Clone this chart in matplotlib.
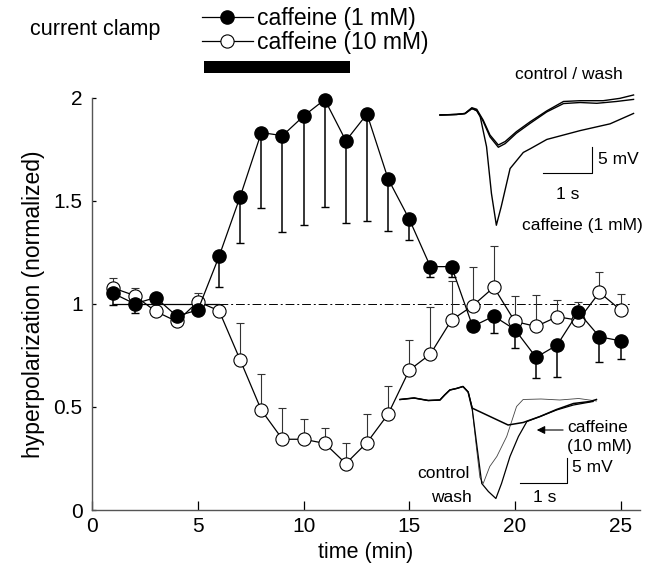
import matplotlib
matplotlib.use('Agg')
import matplotlib.pyplot as plt

plt.rcParams['font.family'] = ['Liberation Sans', 'DejaVu Sans']

# ---------------- data ----------------
time_min = list(range(1, 26))
caf1_mean = [1.05, 1.00, 1.03, 0.94, 0.97, 1.23, 1.52, 1.83, 1.815, 1.91,
             1.99, 1.79, 1.92, 1.605, 1.41, 1.18, 1.18, 0.89, 0.94, 0.875,
             0.74, 0.80, 0.96, 0.84, 0.82]
caf1_err_low = [0.055, 0.045, 0.0, 0.0, 0.02, 0.15, 0.225, 0.365, 0.465, 0.53,
                0.52, 0.40, 0.52, 0.25, 0.10, 0.05, 0.05, 0.0, 0.08, 0.09,
                0.10, 0.155, 0.0, 0.12, 0.09]
caf10_mean = [1.076, 1.04, 0.963, 0.914, 1.01, 0.966, 0.727, 0.484, 0.343, 0.343,
              0.323, 0.225, 0.327, 0.465, 0.678, 0.756, 0.921, 0.99, 1.08, 0.914,
              0.89, 0.937, 0.92, 1.055, 0.97]
caf10_err_up = [0.05, 0.037, 0.0, 0.0, 0.04, 0.0, 0.18, 0.176, 0.15, 0.10,
                0.077, 0.098, 0.14, 0.135, 0.146, 0.23, 0.19, 0.19, 0.20, 0.126,
                0.154, 0.08, 0.09, 0.10, 0.077]
series_labels = ['caffeine (1 mM)', 'caffeine (10 mM)']
ref_level = 1.0
ref_solid_span = [1, 6]
ref_dash_span = [6, 25.5]
caffeine_bar = [5.3, 12.2]          # application period (min)
x_ticks = [0, 5, 10, 15, 20, 25]
y_ticks = [0, 0.5, 1, 1.5, 2]
y_tick_labels = ['0', '0.5', '1', '1.5', '2']

# upper inset traces (s, mV)
up_ctrl_s = [0, 0.34, 0.51, 0.65, 0.75, 0.88, 1.02, 1.19, 1.33, 1.56, 1.84,
             2.18, 2.52, 2.86, 3.33, 3.67, 3.95]
up_ctrl_mv = [0, 0.13, 0.3, 1.4, 1.1, -0.96, -3.85, -5.77, -5.1, -3.2, -1.3,
              0.8, 2.6, 2.75, 2.75, 3.2, 3.85]
up_wash_s = [0, 0.34, 0.51, 0.65, 0.75, 0.88, 1.02, 1.19, 1.33, 1.56, 1.84,
             2.18, 2.52, 2.86, 3.2, 3.6, 3.95]
up_wash_mv = [0, 0.1, 0.25, 1.2, 0.9, -1.2, -4.2, -6.2, -5.5, -3.5, -1.6,
              0.6, 2.2, 2.4, 2.25, 2.6, 3.0]
up_caf_s = [0, 0.34, 0.51, 0.65, 0.75, 0.82, 0.95, 1.05, 1.15, 1.25, 1.43,
            1.70, 1.84, 2.18, 2.86, 3.47, 3.95]
up_caf_mv = [0, 0.1, 0.3, 1.3, 0.8, -0.3, -6.1, -15.1, -21.2, -17.6, -10.3,
             -7.2, -6.5, -4.7, -3.0, -1.7, 0.3]

# lower inset traces (s, mV)
lo_ctrl_s = [0, 0.3, 0.6, 0.85, 0.95, 1.06, 1.2, 1.34, 1.45, 1.53, 1.62, 1.70,
             1.77, 1.91, 2.06, 2.27, 2.48, 2.62, 3.0, 3.4, 3.8, 4.18]
lo_ctrl_mv = [0.1, 0.4, -0.1, 0, 1.0, 2.0, 2.3, 2.7, 1.6, -1.3, -9.0, -15.5,
              -16.7, -13.3, -11.3, -7.3, -1.3, 0.1, 0.2, 0, 0.3, -0.2]
lo_wash_s = [0, 0.3, 0.6, 0.85, 0.95, 1.06, 1.2, 1.34, 1.45, 1.53, 1.63, 1.74,
             1.88, 2.04, 2.16, 2.34, 2.52, 2.70, 2.98, 3.33, 3.69, 4.11]
lo_wash_mv = [0.1, 0.4, -0.1, 0, 1.0, 2.0, 2.3, 2.7, 1.6, -1.3, -8.7, -16.7,
              -18.3, -19.7, -16.7, -11.3, -7.3, -4.3, -3.3, -2.0, -1.0, -0.3]
lo_caf_s = [0, 0.3, 0.6, 0.85, 0.95, 1.06, 1.2, 1.34, 1.45, 1.53, 2.30, 2.62,
            2.98, 3.33, 3.69, 4.04, 4.18]
lo_caf_mv = [0.1, 0.4, -0.1, 0, 1.0, 2.0, 2.3, 2.7, 1.6, -1.6, -5.0, -4.5,
             -3.3, -1.9, -0.7, -0.3, 0.1]

# ---------------- figure ----------------
W, H = 649, 566
fig = plt.figure(figsize=(W / 100, H / 100), dpi=100)

ax_l, ax_r, ax_t, ax_b = 92.3, 639.6, 97.5, 510.0
ax = fig.add_axes([ax_l / W, 1 - ax_b / H, (ax_r - ax_l) / W, (ax_b - ax_t) / H])

zeros = [0.0] * len(time_min)

# reference line at 1
ax.plot(ref_solid_span, [ref_level] * 2, color='black', lw=0.9, zorder=1)
ax.plot(ref_dash_span, [ref_level] * 2, color='black', lw=0.7,
        linestyle=(0, (9, 3, 2, 3)), zorder=1)

# error bars
ax.errorbar(time_min, caf10_mean, yerr=[zeros, caf10_err_up], fmt='none',
            ecolor='#333333', elinewidth=0.8, capsize=3, capthick=0.8,
            zorder=2, clip_on=False)
ax.errorbar(time_min, caf1_mean, yerr=[caf1_err_low, zeros], fmt='none',
            ecolor='black', elinewidth=1.1, capsize=3, capthick=1.0,
            zorder=2, clip_on=False)

# series
l1, = ax.plot(time_min, caf1_mean, color='black', lw=0.9, marker='o',
              markersize=9.5, markerfacecolor='black', markeredgecolor='black',
              label=series_labels[0], zorder=4, clip_on=False)
l2, = ax.plot(time_min, caf10_mean, color='black', lw=0.9, marker='o',
              markersize=9.5, markerfacecolor='white', markeredgecolor='black',
              markeredgewidth=0.8, label=series_labels[1], zorder=3,
              clip_on=False)

# caffeine application bar
ax.broken_barh([(caffeine_bar[0], caffeine_bar[1] - caffeine_bar[0])],
               (2.12, 0.055), facecolors='black', clip_on=False)

ax.set_xlim(0, 25.9)
ax.set_ylim(0, 2)
ax.set_xticks(x_ticks)
ax.set_yticks(y_ticks)
ax.set_yticklabels(y_tick_labels)
for s in ['top', 'right']:
    ax.spines[s].set_visible(False)
for s in ['left', 'bottom']:
    ax.spines[s].set_color('#555555')
    ax.spines[s].set_linewidth(1.0)
ax.tick_params(axis='x', direction='in', length=6.5, width=0.9, pad=5,
               labelsize=15)
ax.tick_params(axis='y', direction='in', length=3, width=0.9, pad=7,
               labelsize=15)

ax.set_xlabel('time (min)', fontsize=15.5)
ax.xaxis.set_label_coords(0.5, -0.078)
ax.set_ylabel('hyperpolarization (normalized)', fontsize=16.5)
ax.yaxis.set_label_coords(-0.087, 0.5)

# title text and legend
fig.text(30 / W, 1 - 29 / H, 'current clamp', fontsize=15.5, ha='left',
         va='center')
fig.legend(handles=[l1, l2], loc='upper left',
           bbox_to_anchor=(201.7 / W, 1 - 7 / H), frameon=False,
           fontsize=16.5, borderpad=0, borderaxespad=0, handlelength=2.25,
           handletextpad=0.15, labelspacing=0.05, numpoints=1)

# ---------------- upper inset ----------------
ins1 = fig.add_axes([430 / W, 1 - 240 / H, 219 / W, 180 / H])
ins1.set_xlim(-10 / 49, 209 / 49)
ins1.set_ylim(-125 / 5.2, 55 / 5.2)
ins1.axis('off')
ins1.plot(up_ctrl_s, up_ctrl_mv, color='black', lw=1.0)
ins1.plot(up_wash_s, up_wash_mv, color='black', lw=1.0)
ins1.plot(up_caf_s, up_caf_mv, color='black', lw=1.0)
ins1.plot([2.1, 3.1, 3.1], [-11.15, -11.15, -6.15], color='black', lw=0.8)
ins1.text(3.22, -8.65, '5 mV', fontsize=12.5, ha='left', va='center')
ins1.text(2.6, -15.2, '1 s', fontsize=12.5, ha='center', va='center')
ins1.text(2.63, 7.7, 'control / wash', fontsize=12.5, ha='center',
          va='center')
ins1.text(2.9, -21.2, 'caffeine (1 mM)', fontsize=12.5, ha='center',
          va='center')

# ---------------- lower inset ----------------
ins2 = fig.add_axes([390 / W, 1 - 510 / H, 259 / W, 150 / H])
ins2.set_xlim(-10 / 47, 249 / 47)
ins2.set_ylim(-110 / 5, 40 / 5)
ins2.axis('off')
ins2.plot(lo_ctrl_s, lo_ctrl_mv, color='#444444', lw=0.6)
ins2.plot(lo_wash_s, lo_wash_mv, color='black', lw=0.9)
ins2.plot(lo_caf_s, lo_caf_mv, color='black', lw=1.1)
ins2.plot([2.553, 3.547, 3.547], [-16.66, -16.66, -11.66], color='black',
          lw=0.8)
ins2.text(3.66, -13.6, '5 mV', fontsize=12.5, ha='left', va='center')
ins2.text(3.085, -19.6, '1 s', fontsize=12.5, ha='center', va='center')
ins2.text(0.915, -14.7, 'control', fontsize=12.5, ha='center', va='center')
ins2.text(1.09, -19.4, 'wash', fontsize=12.5, ha='center', va='center')
ins2.text(3.55, -5.4, 'caffeine', fontsize=12.5, ha='left', va='center')
ins2.text(3.55, -9.2, '(10 mM)', fontsize=12.5, ha='left', va='center')
ins2.annotate('', xy=(2.91, -6.0), xytext=(3.47, -6.0),
              arrowprops=dict(arrowstyle='-|>', lw=0.8, color='black',
                              mutation_scale=12, shrinkA=0, shrinkB=0))

fig.savefig('out.png', dpi=100)
